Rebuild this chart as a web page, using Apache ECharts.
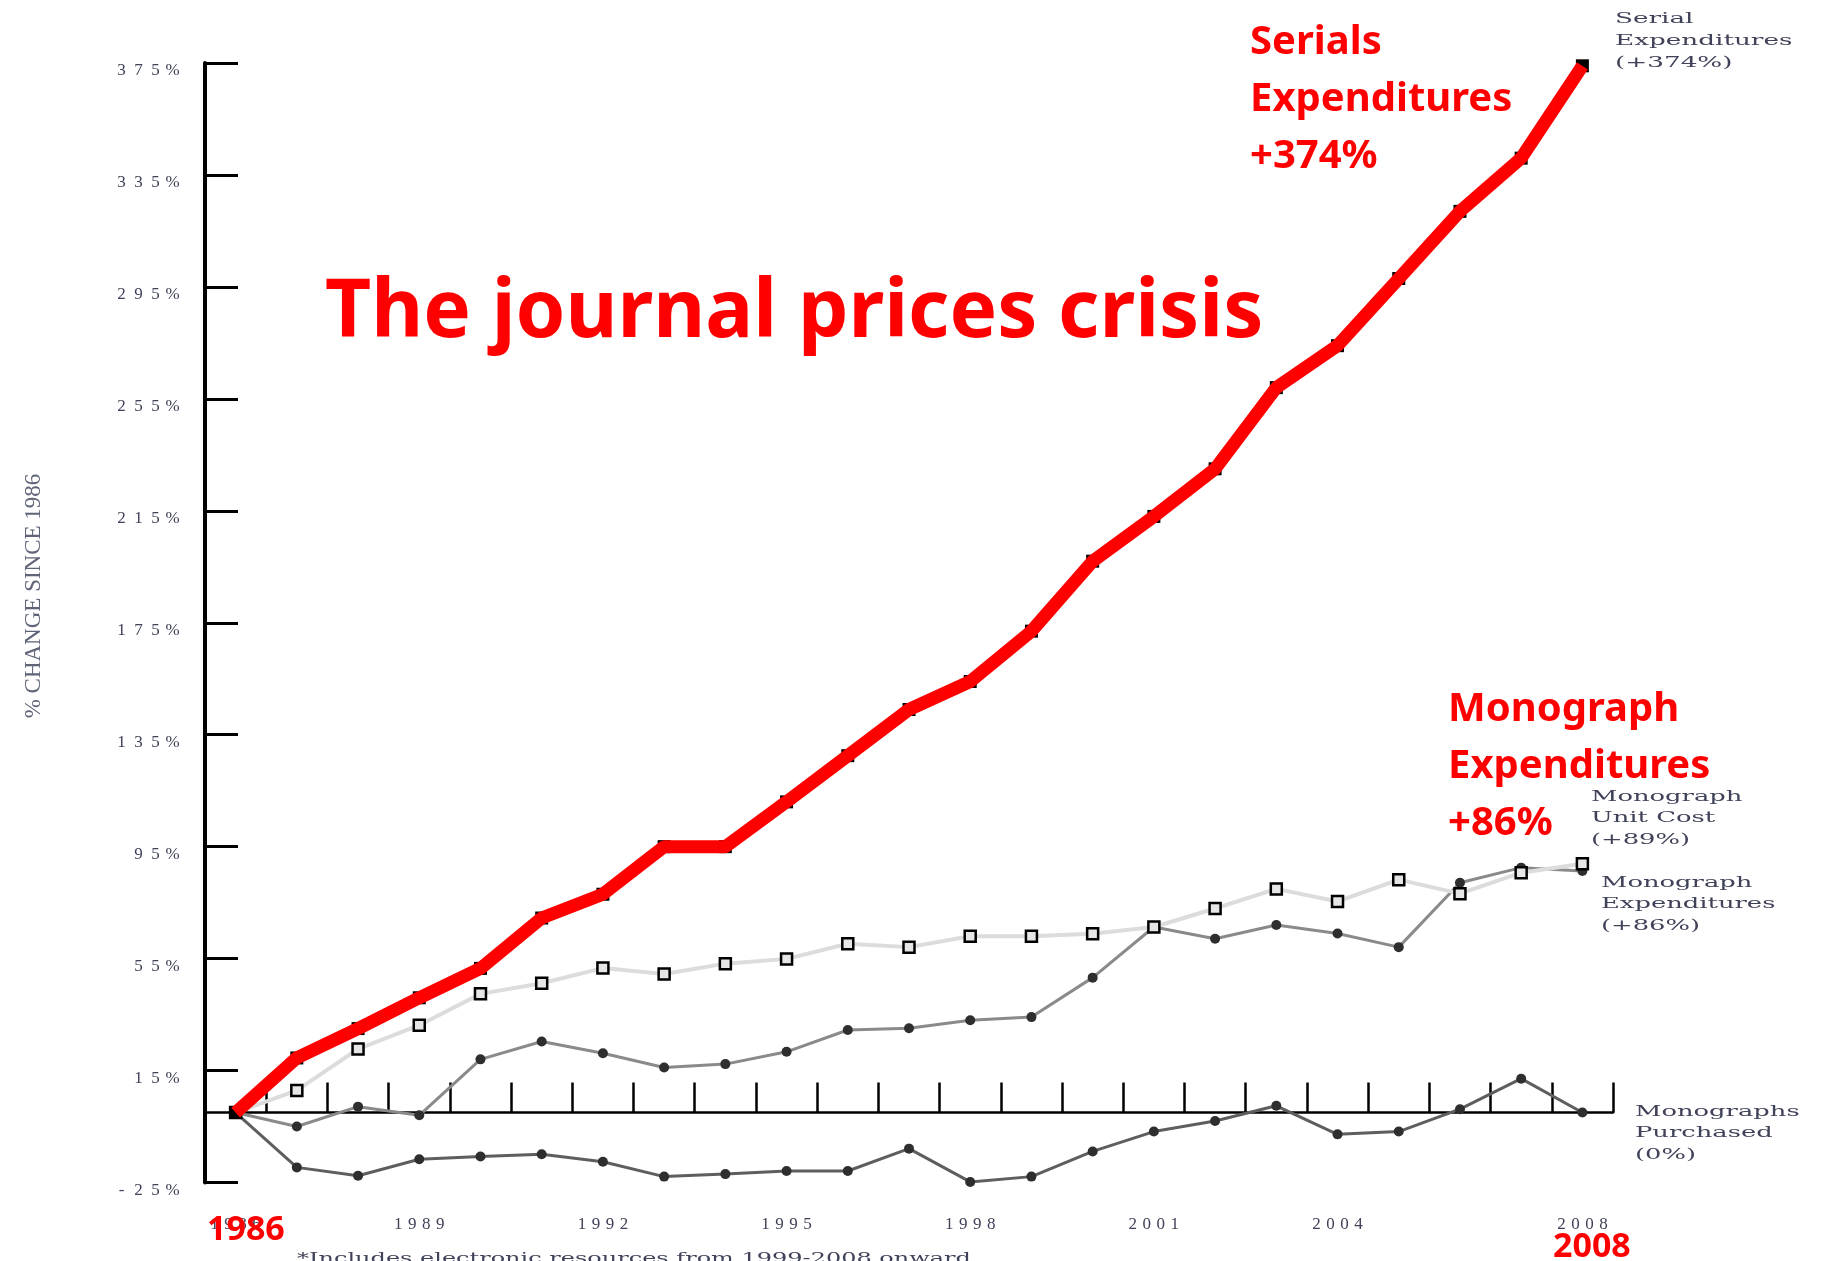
<!DOCTYPE html>
<html>
<head>
<meta charset="utf-8">
<title>The journal prices crisis</title>
<script src="https://cdn.jsdelivr.net/npm/echarts@6/dist/echarts.min.js"></script>
<style>
  html, body { margin: 0; padding: 0; background: #fff; }
  #chart { width: 1824px; height: 1261px; }
</style>
</head>
<body>
<div id="chart"></div>
<script>
// years on the x axis
var years = ['1986', '1987', '1988', '1989', '1990', '1991', '1992', '1993', '1994', '1995', '1996', '1997',
  '1998', '1999', '2000', '2001', '2002', '2003', '2004', '2005', '2006', '2007', '2008'];
var shownYears = ['1986', '1989', '1992', '1995', '1998', '2001', '2004', '2008'];
var yTicks = [-25, 15, 55, 95, 135, 175, 215, 255, 295, 335, 375];

// % change since 1986
var serials = [0, 19.5, 30, 41, 51.5, 69.5, 78, 95, 95, 111, 127.5, 144, 154, 172, 197, 213, 230, 259, 274, 298, 322, 341, 374];
var unitCost = [0, 7.9, 22.7, 31.2, 42.4, 46.2, 51.6, 49.5, 53.2, 54.9, 60.3, 59.1, 63, 63, 63.9, 66.3, 72.9, 79.9, 75.4, 83.2, 78.2, 85.7, 88.9];
var monoExp = [0, -5, 2.1, -1, 19, 25.4, 21.2, 16.1, 17.3, 21.7, 29.5, 30.1, 33, 34.1, 48.2, 66.3, 62.1, 67, 64, 59.1, 82.1, 87.5, 86.3];
var monoPurchased = [0, -19.6, -22.6, -16.7, -15.7, -14.9, -17.6, -22.9, -22, -20.9, -20.9, -12.9, -24.8, -22.9, -13.9, -6.8, -3, 2.4, -7.8, -6.8, 1.2, 12.1, 0];

var grayText = '#3f4258';

// the scanned labels are very wide, so every character gets its own box
function spread (s) {
  return String(s).split('').map(function (c) { return '{c|' + c + '}' }).join('')
}

var chart = echarts.init(document.getElementById('chart'))

var option = {
  animation: false,
  backgroundColor: '#fff',
  grid: { left: 205, right: 211, top: 63, bottom: 78.5, containLabel: false, outerBoundsMode: 'none' },
  xAxis: [
    {
      type: 'category',
      data: years,
      position: 'bottom',
      boundaryGap: true,
      axisLine: { show: true, onZero: true, lineStyle: { color: '#000', width: 2.5 } },
      axisTick: { show: true, inside: true, length: 30, interval: 0, lineStyle: { color: '#000', width: 2.5 } },
      axisLabel: { show: false },
      splitLine: { show: false }
    },
    {
      type: 'category',
      data: years,
      position: 'bottom',
      boundaryGap: true,
      axisLine: { show: false, onZero: false },
      axisTick: { show: false },
      splitLine: { show: false },
      axisLabel: {
        show: true,
        margin: 34,
        interval: function (idx, val) { return shownYears.indexOf(val) >= 0 },
        formatter: function (val) { return spread(val) },
        rich: { c: { width: 14, align: 'center', fontSize: 17, fontFamily: 'Liberation Serif', color: grayText } }
      }
    }
  ],
  yAxis: {
    type: 'value',
    min: -25,
    max: 375,
    axisLine: { show: true, lineStyle: { color: '#000', width: 4 } },
    axisTick: { show: true, inside: true, length: 33, customValues: yTicks, lineStyle: { color: '#000', width: 3 } },
    axisLabel: {
      show: true,
      margin: 24,
      customValues: yTicks,
      padding: [16, 0, 0, 0],
      formatter: function (v) { return spread(v + '%') },
      rich: { c: { width: 17, align: 'center', fontSize: 17, fontFamily: 'Liberation Serif', color: grayText } }
    },
    splitLine: { show: false }
  },
  series: [
    {
      name: 'Monographs Purchased',
      type: 'line',
      data: monoPurchased,
      z: 2,
      symbol: 'circle',
      symbolSize: 10,
      itemStyle: { color: '#2e2e2e' },
      lineStyle: { color: '#5e5e5e', width: 3 }
    },
    {
      name: 'Monograph Expenditures',
      type: 'line',
      data: monoExp,
      z: 2,
      symbol: 'circle',
      symbolSize: 10,
      itemStyle: { color: '#2e2e2e' },
      lineStyle: { color: '#8a8a8a', width: 3 }
    },
    {
      name: 'Monograph Unit Cost',
      type: 'line',
      data: unitCost,
      z: 3,
      symbol: 'rect',
      symbolSize: 11,
      itemStyle: { color: '#e6e6e6', borderColor: '#000', borderWidth: 2.5 },
      lineStyle: { color: '#dcdcdc', width: 4 }
    },
    {
      name: 'Serial Expenditures markers',
      type: 'line',
      data: serials,
      z: 4,
      symbol: 'rect',
      symbolSize: 13,
      itemStyle: { color: '#000' },
      lineStyle: { color: '#000', width: 2 }
    },
    {
      name: 'Serial Expenditures',
      type: 'line',
      data: serials,
      z: 5,
      showSymbol: false,
      symbol: 'none',
      lineStyle: { color: '#ff0000', width: 13 }
    }
  ],
  graphic: [
    {
      type: 'text', x: 325, y: 314, z: 10,
      style: { text: 'The journal prices crisis', fontSize: 80, fontWeight: 'bold', fontFamily: 'Noto Sans', fill: '#ff0000', verticalAlign: 'middle' }
    },
    {
      type: 'text', x: 1250, y: 14, z: 10,
      style: { text: 'Serials\nExpenditures\n+374%', fontSize: 40, fontWeight: 'bold', fontFamily: 'Noto Sans', fill: '#ff0000', lineHeight: 57 }
    },
    {
      type: 'text', x: 1448, y: 681, z: 10,
      style: { text: 'Monograph\nExpenditures\n+86%', fontSize: 40, fontWeight: 'bold', fontFamily: 'Noto Sans', fill: '#ff0000', lineHeight: 57 }
    },
    {
      type: 'text', x: 207, y: 1230.5, z: 10,
      style: { text: '1986', fontSize: 34, fontWeight: 'bold', fontFamily: 'Noto Sans', fill: '#ff0000', verticalAlign: 'middle' }
    },
    {
      type: 'text', x: 1553, y: 1247, z: 10,
      style: { text: '2008', fontSize: 34, fontWeight: 'bold', fontFamily: 'Noto Sans', fill: '#ff0000', verticalAlign: 'middle' }
    },
    // small scanned labels at the line ends
    {
      type: 'text', x: 1615, y: 8, scaleX: 1.75,
      style: { text: 'Serial\nExpenditures\n(+374%)', fontSize: 15, fontFamily: 'DejaVu Serif', fill: grayText, lineHeight: 22 }
    },
    {
      type: 'text', x: 1591, y: 786, scaleX: 1.72,
      style: { text: 'Monograph\nUnit Cost\n(+89%)', fontSize: 15, fontFamily: 'DejaVu Serif', fill: grayText, lineHeight: 21.6 }
    },
    {
      type: 'text', x: 1601, y: 872, scaleX: 1.72,
      style: { text: 'Monograph\nExpenditures\n(+86%)', fontSize: 15, fontFamily: 'DejaVu Serif', fill: grayText, lineHeight: 21.7 }
    },
    {
      type: 'text', x: 1635, y: 1101, scaleX: 1.72,
      style: { text: 'Monographs\nPurchased\n(0%)', fontSize: 15, fontFamily: 'DejaVu Serif', fill: grayText, lineHeight: 21.7 }
    },
    {
      type: 'text', x: 34, y: 596, rotation: Math.PI / 2,
      style: { text: '% CHANGE SINCE 1986', fontSize: 23, fontFamily: 'Liberation Serif', fill: '#5f6478', align: 'center', verticalAlign: 'middle' }
    },
    {
      type: 'text', x: 297, y: 1252, scaleX: 1.6,
      style: { text: '*Includes electronic resources from 1999-2008 onward.', fontSize: 15, fontFamily: 'DejaVu Serif', fill: grayText }
    }
  ]
}

chart.setOption(option)
</script>
</body>
</html>
